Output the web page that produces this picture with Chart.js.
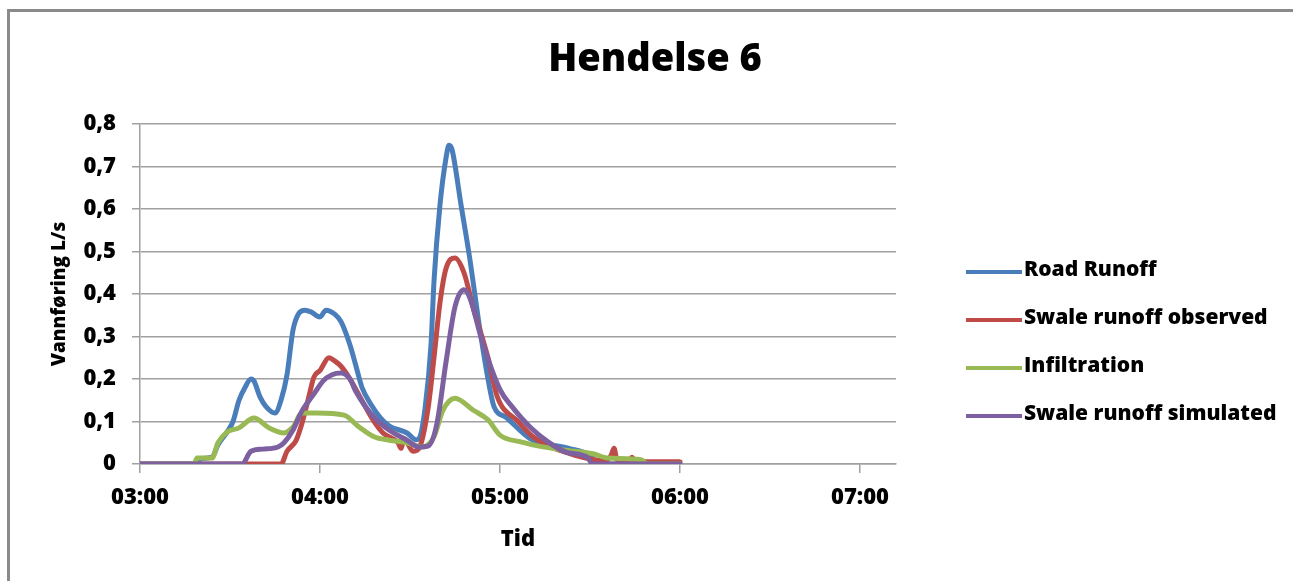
<!DOCTYPE html>
<html>
<head>
<meta charset="utf-8">
<title>Hendelse 6</title>
<script src="https://cdn.jsdelivr.net/npm/chart.js@4.4.1/dist/chart.umd.min.js"></script>
<style>
    html, body { margin: 0; padding: 0; background: #fff; }
    #wrap { width: 1293px; height: 581px; }
</style>
</head>
<body>
<div id="wrap"><canvas id="hendelseChart" width="1293" height="581"></canvas></div>
<script>
// measured flow, L/s, against clock time
var roadTime = ["03:00", "03:19", "03:20", "03:24", "03:26", "03:29", "03:31", "03:33", "03:35", "03:37", "03:38", "03:40", "03:42", "03:45", "03:47", "03:49", "03:51", "03:53", "03:55", "03:57", "04:00", "04:02", "04:05", "04:07", "04:10", "04:12", "04:14", "04:17", "04:20", "04:23", "04:29", "04:32", "04:33", "04:35", "04:37", "04:38", "04:40", "04:42", "04:43", "04:44", "04:47", "04:50", "04:53", "04:56", "04:58", "05:02", "05:10", "05:23", "05:30", "05:33", "06:00"];
var roadFlow = [0, 0, 0.012, 0.016, 0.045, 0.075, 0.1, 0.15, 0.18, 0.2, 0.195, 0.158, 0.135, 0.12, 0.15, 0.21, 0.315, 0.355, 0.362, 0.358, 0.346, 0.362, 0.352, 0.335, 0.28, 0.23, 0.18, 0.14, 0.11, 0.09, 0.073, 0.057, 0.06, 0.13, 0.28, 0.43, 0.61, 0.72, 0.75, 0.74, 0.61, 0.48, 0.33, 0.2, 0.135, 0.11, 0.06, 0.037, 0.02, 0, 0];

var swaleObsTime = ["03:00", "03:47", "03:49", "03:52", "03:54", "03:56", "03:58", "04:00", "04:03", "04:05", "04:07", "04:10", "04:12", "04:18", "04:21", "04:26", "04:27", "04:28", "04:31", "04:33", "04:36", "04:38", "04:40", "04:42", "04:45", "04:48", "04:51", "04:56", "04:59", "05:06", "05:11", "05:17", "05:23", "05:30", "05:35", "05:37", "05:38", "05:39", "05:43", "05:44", "05:45", "06:00"];
var swaleObsFlow = [0, 0, 0.03, 0.055, 0.096, 0.15, 0.205, 0.22, 0.25, 0.242, 0.23, 0.2, 0.175, 0.1, 0.073, 0.05, 0.037, 0.06, 0.03, 0.037, 0.13, 0.25, 0.38, 0.46, 0.485, 0.45, 0.37, 0.25, 0.16, 0.1, 0.064, 0.04, 0.025, 0.012, 0.008, 0.02, 0.037, 0.01, 0.008, 0.016, 0.006, 0.005];

var infilTime = ["03:00", "03:18", "03:19", "03:24", "03:26", "03:29", "03:33", "03:38", "03:43", "03:48", "03:51", "03:54", "03:59", "04:08", "04:13", "04:18", "04:23", "04:29", "04:34", "04:38", "04:41", "04:45", "04:51", "04:56", "05:00", "05:07", "05:13", "05:21", "05:31", "05:36", "05:47", "05:49", "06:00"];
var infilFlow = [0, 0, 0.014, 0.014, 0.05, 0.075, 0.085, 0.108, 0.085, 0.073, 0.087, 0.12, 0.12, 0.115, 0.087, 0.064, 0.056, 0.05, 0.04, 0.064, 0.127, 0.155, 0.127, 0.104, 0.068, 0.052, 0.042, 0.033, 0.024, 0.014, 0.01, 0, 0];

var swaleSimTime = ["03:00", "03:34", "03:37", "03:41", "03:46", "03:48", "03:51", "03:54", "03:58", "04:01", "04:04", "04:07", "04:10", "04:12", "04:18", "04:23", "04:29", "04:33", "04:36", "04:39", "04:42", "04:45", "04:48", "04:50", "04:54", "05:00", "05:04", "05:10", "05:16", "05:22", "05:29", "05:31", "06:00"];
var swaleSimFlow = [0, 0, 0.03, 0.035, 0.04, 0.05, 0.08, 0.125, 0.165, 0.195, 0.21, 0.214, 0.2, 0.17, 0.11, 0.08, 0.056, 0.04, 0.042, 0.096, 0.24, 0.37, 0.41, 0.39, 0.29, 0.175, 0.135, 0.087, 0.052, 0.028, 0.016, 0, 0];

var seriesNames = ["Road Runoff", "Swale runoff observed", "Infiltration", "Swale runoff simulated"];
var seriesColors = ["#4A7EBB", "#BE4B48", "#98B954", "#7D60A0"];

var fontFamily = "'Open Sans', 'DejaVu Sans', sans-serif";
var gridGray = "#a0a0a0";

// "HH:MM" -> minutes after midnight
function toMinutes(t) {
    var p = t.split(":");
    return parseInt(p[0], 10) * 60 + parseInt(p[1], 10);
}

function toClock(m) {
    var h = Math.floor(m / 60), mm = Math.round(m % 60);
    return (h < 10 ? "0" : "") + h + ":" + (mm < 10 ? "0" : "") + mm;
}

function points(times, flows) {
    var pts = [];
    for (var i = 0; i < times.length; i++) {
        pts.push({ x: toMinutes(times[i]), y: flows[i] });
    }
    return pts;
}

var seriesData = [
    points(roadTime, roadFlow),
    points(swaleObsTime, swaleObsFlow),
    points(infilTime, infilFlow),
    points(swaleSimTime, swaleSimFlow)
];

var datasets = [];
for (var i = 0; i < seriesNames.length; i++) {
    datasets.push({
        label: seriesNames[i],
        data: seriesData[i],
        borderColor: seriesColors[i],
        backgroundColor: seriesColors[i],
        borderWidth: 5,
        pointRadius: 0,
        cubicInterpolationMode: "monotone",
        borderCapStyle: "round",
        borderJoinStyle: "round",
        // later series sit on top
        order: seriesNames.length - i
    });
}

// frame, title and legend
var chartDecor = {
    id: "chartDecor",
    beforeDraw: function (chart) {
        var ctx = chart.ctx;
        ctx.save();
        ctx.fillStyle = "#fff";
        ctx.fillRect(0, 0, chart.width, chart.height);
        ctx.strokeStyle = "#8a8a8a";
        ctx.lineWidth = 3;
        ctx.strokeRect(8.5, 10.5, chart.width + 40, chart.height + 40);
        ctx.restore();
    },
    afterDraw: function (chart) {
        var ctx = chart.ctx;
        ctx.save();
        ctx.fillStyle = "#000";
        ctx.font = "800 38px " + fontFamily;
        ctx.textAlign = "center";
        ctx.textBaseline = "alphabetic";
        ctx.fillText("Hendelse 6", 655, 71);

        ctx.font = "800 21px " + fontFamily;
        ctx.textAlign = "left";
        ctx.textBaseline = "middle";
        var ds = chart.data.datasets;
        for (var i = 0; i < ds.length; i++) {
            var y = 268 + i * 48;
            ctx.strokeStyle = ds[i].borderColor;
            ctx.lineWidth = 4;
            ctx.beginPath();
            ctx.moveTo(966, y + 4);
            ctx.lineTo(1022, y + 4);
            ctx.stroke();
            ctx.fillText(ds[i].label, 1024, y + 2);
        }
        ctx.restore();
    }
};

var ctx = document.getElementById("hendelseChart").getContext("2d");
var hendelseChart = new Chart(ctx, {
    type: "line",
    data: { datasets: datasets },
    options: {
        responsive: false,
        animation: false,
        devicePixelRatio: 1,
        layout: { padding: { left: 0, right: 397, top: 124, bottom: 0 } },
        plugins: {
            legend: { display: false },
            title: { display: false },
            tooltip: { enabled: false }
        },
        scales: {
            x: {
                type: "linear",
                min: 180,
                max: 432,
                afterFit: function (s) { s.height = 117; },
                ticks: {
                    stepSize: 60,
                    includeBounds: false,
                    maxRotation: 0,
                    autoSkip: false,
                    padding: 12,
                    color: "#000",
                    font: { family: fontFamily, size: 22, weight: 800 },
                    callback: function (v) { return toClock(v); }
                },
                grid: { drawOnChartArea: false, drawTicks: true, tickLength: 9, color: gridGray, lineWidth: 1.5 },
                border: { color: gridGray, width: 1.5 },
                title: {
                    display: true,
                    text: "Tid",
                    color: "#000",
                    font: { family: fontFamily, size: 22, weight: 800 },
                    padding: { top: 0, bottom: 28 }
                }
            },
            y: {
                min: 0,
                max: 0.8,
                afterFit: function (s) { s.width = 140; },
                ticks: {
                    stepSize: 0.1,
                    padding: 16,
                    color: "#000",
                    font: { family: fontFamily, size: 22, weight: 800 },
                    callback: function (v) {
                        return v === 0 ? "0" : v.toFixed(1).replace(".", ",");
                    }
                },
                grid: { color: gridGray, lineWidth: 1.5, tickLength: 8 },
                border: { color: gridGray, width: 1.5 },
                title: {
                    display: true,
                    text: "Vannføring L/s",
                    color: "#000",
                    font: { family: fontFamily, size: 19, weight: 800 },
                    padding: { top: 48, bottom: 0 }
                }
            }
        }
    },
    plugins: [chartDecor]
});
</script>
</body>
</html>
